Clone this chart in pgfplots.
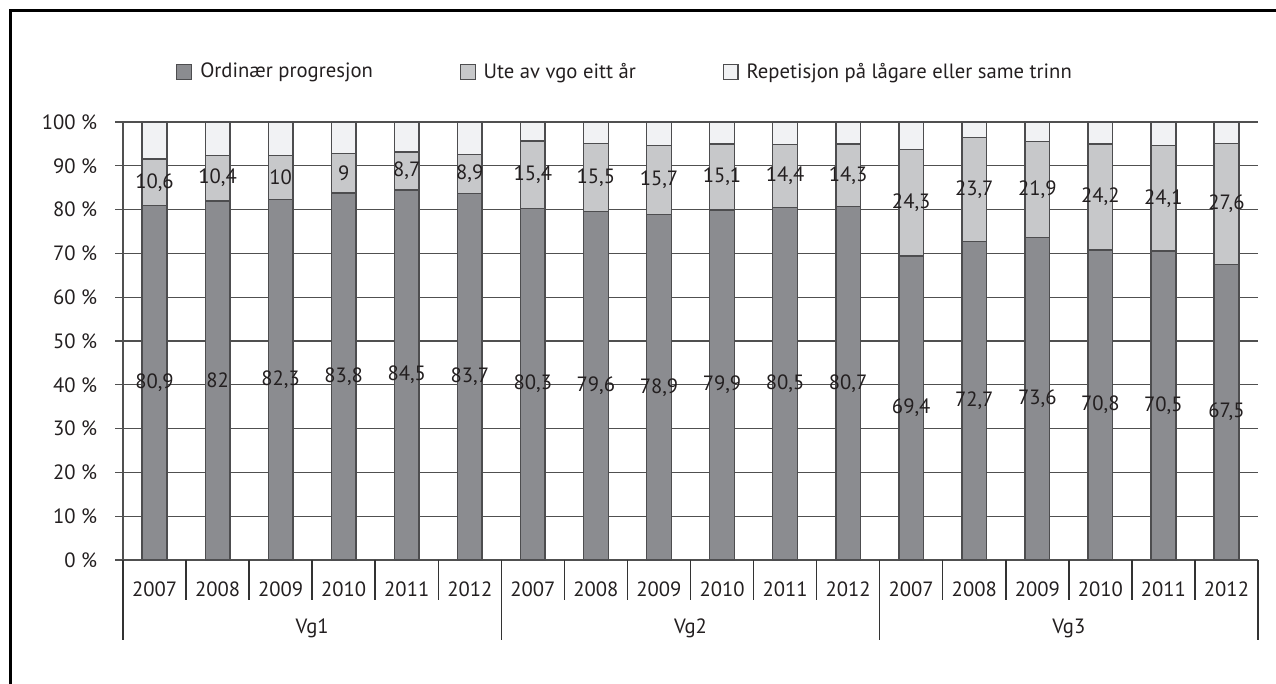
\documentclass[border=0pt]{standalone}
\usepackage{pgfplots}
\usepackage{pgfplotstable}
\usepackage{fontspec}
\setmainfont{PT Sans}
\pgfplotsset{compat=1.18}
\definecolor{cOrd}{HTML}{8B8C90}
\definecolor{cUte}{HTML}{C7C8CA}
\definecolor{cRep}{HTML}{F1F2F4}
\definecolor{cEdge}{HTML}{4D4D4F}
\definecolor{cGrid}{HTML}{505050}
\definecolor{cSep}{HTML}{333333}
\definecolor{cText}{HTML}{231F20}

\pgfplotstableread{
x ord ute rep
0 80.9 10.6 8.5
1 82.0 10.4 7.6
2 82.3 10.0 7.7
3 83.8 9.0 7.2
4 84.5 8.7 6.8
5 83.7 8.9 7.4
6 80.3 15.4 4.3
7 79.6 15.5 4.9
8 78.9 15.7 5.4
9 79.9 15.1 5.0
10 80.5 14.4 5.1
11 80.7 14.3 5.0
12 69.4 24.3 6.3
13 72.7 23.7 3.6
14 73.6 21.9 4.5
15 70.8 24.2 5.0
16 70.5 24.1 5.4
17 67.5 27.6 4.9
}\data

\begin{document}
\fontsize{15.5pt}{18pt}\selectfont
\begin{tikzpicture}
\useasboundingbox (0,0) rectangle (957pt,513pt);
\draw[line width=2.25pt, black] (7.5pt,-5pt) -- (7.5pt,504.75pt) -- (965pt,504.75pt);
\begin{axis}[
  at={(92.25pt,93pt)}, anchor=south west,
  scale only axis, width=851.25pt, height=328.5pt,
  xmin=-0.5, xmax=17.5, ymin=0, ymax=100,
  enlarge x limits=false,
  clip=false,
  ybar stacked, bar width=18.5pt,
  axis x line*=bottom, axis y line*=left,
  axis line style={cGrid, line width=0.9pt},
  ytick={0,10,...,100},
  yticklabel={\pgfmathprintnumber{\tick} \%},
  y tick label style={xshift=-8pt},
  ymajorgrids, grid style={cGrid, line width=0.9pt},
  tick align=outside, major tick length=6pt,
  ytick style={cGrid, line width=0.9pt},
  xtick={0,...,17},
  xticklabels={2007,2008,2009,2010,2011,2012,2007,2008,2009,2010,2011,2012,2007,2008,2009,2010,2011,2012},
  xtick style={draw=none},
  x tick label style={anchor=center, yshift=-16pt},
  /pgf/number format/assume math mode=true,
  tick label style={text=cText},
  legend columns=3,
  legend cell align=left,
  legend style={draw=none, fill=none, text=cText,
    at={(axis description cs:0.0432,1.114)}, anchor=west,
    /tikz/every odd column/.append style={column sep=4pt},
    /tikz/every even column/.append style={column sep=63pt}},
]
\addplot[fill=cOrd, draw=cEdge, line width=1.1pt,
  legend image code/.code={\draw[fill=cOrd, draw=cEdge, line width=0.8pt] (0pt,-5.6pt) rectangle (11.2pt,5.6pt);}]
  table[x=x, y=ord] {\data};
\addplot[fill=cUte, draw=cEdge, line width=1.1pt,
  legend image code/.code={\draw[fill=cUte, draw=cEdge, line width=0.8pt] (0pt,-5.6pt) rectangle (11.2pt,5.6pt);}]
  table[x=x, y=ute] {\data};
\addplot[fill=cRep, draw=cEdge, line width=1.1pt,
  legend image code/.code={\draw[fill=cRep, draw=cEdge, line width=0.8pt] (0pt,-5.6pt) rectangle (11.2pt,5.6pt);}]
  table[x=x, y=rep] {\data};
\legend{Ordinær progresjon, Ute av vgo eitt år, Repetisjon på lågare eller same trinn}
\pgfplotsinvokeforeach{0.5,1.5,2.5,3.5,4.5,6.5,7.5,8.5,9.5,10.5,12.5,13.5,14.5,15.5,16.5}{
  \draw[cSep, line width=1.1pt] (axis cs:#1,0) -- ([yshift=-30pt]axis cs:#1,0);}
\pgfplotsinvokeforeach{-0.5,5.5,11.5,17.5}{
  \draw[cSep, line width=1.1pt] (axis cs:#1,0) -- ([yshift=-60pt]axis cs:#1,0);}
\node[text=cText] at (axis cs:2.5,0) [yshift=-51pt] {Vg1};
\node[text=cText] at (axis cs:8.5,0) [yshift=-51pt] {Vg2};
\node[text=cText] at (axis cs:14.5,0) [yshift=-51pt] {Vg3};
\end{axis}
\begin{axis}[
  at={(92.25pt,93pt)}, anchor=south west,
  scale only axis, width=851.25pt, height=328.5pt,
  xmin=-0.5, xmax=17.5, ymin=0, ymax=100,
  hide axis, clip=false,
  /pgf/number format/assume math mode=true,
  /pgf/number format/use comma,
  nodes near coords style={anchor=center, text=cText},
]
\addplot[draw=none, mark=none, nodes near coords, point meta=explicit]
  table[x=x, y expr=\thisrow{ord}/2, meta=ord] {\data};
\addplot[draw=none, mark=none, nodes near coords, point meta=explicit]
  table[x=x, y expr=\thisrow{ord}+\thisrow{ute}/2, meta=ute] {\data};
\end{axis}
\end{tikzpicture}
\end{document}
